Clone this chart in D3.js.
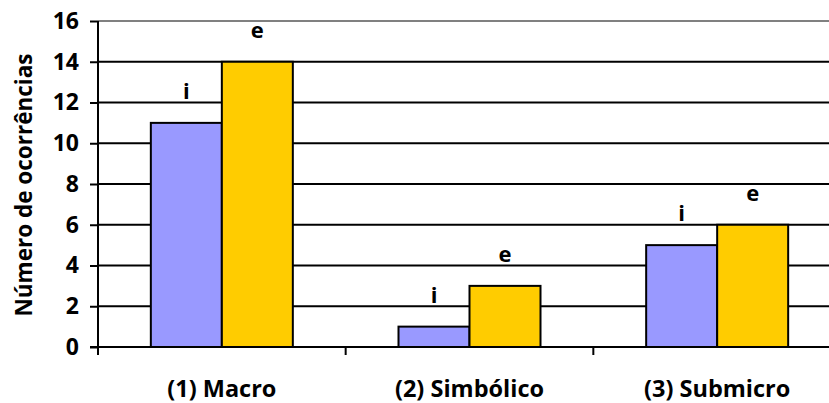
<!DOCTYPE html>
<html><head><meta charset="utf-8">
<script src="https://cdn.jsdelivr.net/npm/d3@7"></script>
<style>body{margin:0;background:#fff;} text{font-family:"Open Sans",sans-serif;font-weight:bold;}</style>
</head><body>
<svg id="c" width="829" height="403"></svg>
<script>
const categories = ["(1) Macro", "(2) Simbólico", "(3) Submicro"];
const seriesNames = ["i", "e"];
const seriesI = [11, 1, 5];
const seriesE = [14, 3, 6];
const yTicks = [0, 2, 4, 6, 8, 10, 12, 14, 16];
const colors = ["#9999FF", "#FFCC00"];

const svg = d3.select("#c");
const m = {l: 98, t: 21, r: 841, b: 347};
const x = d3.scaleBand().domain(categories).range([m.l, m.r]).paddingInner(0).paddingOuter(0);
const y = d3.scaleLinear().domain([0, 16]).range([m.b, m.t]);
const barW = 71;
const sub = d3.scaleBand().domain(seriesNames).range([0, barW * 2]);
const FF = "'Open Sans', sans-serif";

// gridlines
svg.append("g").selectAll("line").data(yTicks.filter(d => d > 0)).join("line")
  .attr("x1", m.l).attr("x2", m.r)
  .attr("y1", d => y(d)).attr("y2", d => y(d))
  .attr("stroke", d => d === 16 ? "#808080" : "#000").attr("stroke-width", 2);

const data = categories.map((c, i) => ({c, vals: [seriesI[i], seriesE[i]]}));
const g = svg.append("g");
data.forEach(d => {
  const x0 = x(d.c) + x.bandwidth() / 2 - barW;
  d.vals.forEach((v, k) => {
    g.append("rect")
      .attr("x", x0 + sub(seriesNames[k])).attr("y", y(v))
      .attr("width", sub.bandwidth()).attr("height", y(0) - y(v))
      .attr("fill", colors[k]).attr("stroke", "#000").attr("stroke-width", 2);
    g.append("text")
      .attr("x", x0 + sub(seriesNames[k]) + sub.bandwidth() / 2)
      .attr("y", y(v) - 24)
      .attr("text-anchor", "middle").attr("font-size", 22)
      .text(seriesNames[k]);
  });
});

// y axis
const ya = svg.append("g").attr("transform", `translate(${m.l},0)`)
  .call(d3.axisLeft(y).tickValues(yTicks).tickSize(8).tickPadding(11));
ya.select(".domain").attr("stroke", "#000").attr("stroke-width", 2).attr("d", `M-0,${y(16)}V${y(0)}`);
ya.selectAll(".tick line").attr("stroke", "#000").attr("stroke-width", 2);
ya.selectAll(".tick text").attr("font-size", 23).attr("fill", "#000")
  .style("font-family", FF).style("font-weight", "bold");

// x axis
const xa = svg.append("g").attr("transform", `translate(0,${m.b})`)
  .call(d3.axisBottom(x).tickSize(0).tickPadding(33));
xa.select(".domain").attr("stroke", "#000").attr("stroke-width", 2).attr("d", `M${m.l - 8},0H${m.r}`);
xa.selectAll(".tick text").attr("font-size", 23.5).attr("fill", "#000")
  .style("font-family", FF).style("font-weight", "bold");
// category separators
svg.append("g").selectAll("line").data(categories).join("line")
  .attr("x1", d => x(d)).attr("x2", d => x(d))
  .attr("y1", m.b).attr("y2", m.b + 8)
  .attr("stroke", "#000").attr("stroke-width", 2);

// y title
svg.append("text").attr("transform", `translate(32,185) rotate(-90)`)
  .attr("text-anchor", "middle").attr("font-size", 22.5).text("Número de ocorrências");
</script>
</body></html>
